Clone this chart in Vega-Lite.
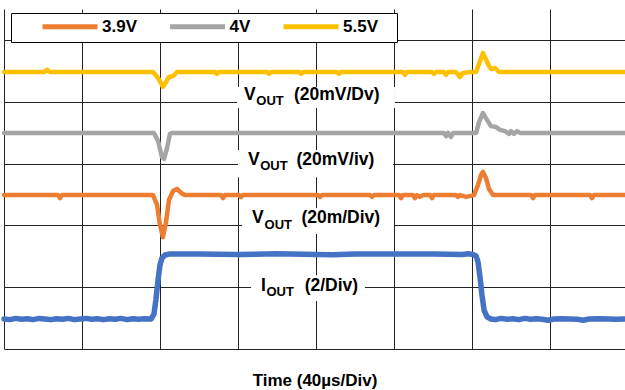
{
  "$schema": "https://vega.github.io/schema/vega-lite/v6.json",
  "autosize": {"type": "none"},
  "padding": {"left": 4, "top": 9, "right": 0, "bottom": 41},
  "width": 621,
  "height": 340,
  "config": {
    "view": {"stroke": null},
    "font": "Liberation Sans"
  },
  "datasets": {
    "traces": [
      {"series": "5.5V", "t": 0, "v": 8.96},
      {"series": "5.5V", "t": 20.5, "v": 8.96},
      {"series": "5.5V", "t": 22.1, "v": 9.03},
      {"series": "5.5V", "t": 23.6, "v": 8.96},
      {"series": "5.5V", "t": 76.4, "v": 8.96},
      {"series": "5.5V", "t": 79.0, "v": 8.77},
      {"series": "5.5V", "t": 81.5, "v": 8.48},
      {"series": "5.5V", "t": 83.1, "v": 8.64},
      {"series": "5.5V", "t": 84.6, "v": 8.8},
      {"series": "5.5V", "t": 86.7, "v": 8.83},
      {"series": "5.5V", "t": 88.7, "v": 8.96},
      {"series": "5.5V", "t": 108.2, "v": 8.96},
      {"series": "5.5V", "t": 109.2, "v": 8.9},
      {"series": "5.5V", "t": 110.3, "v": 8.96},
      {"series": "5.5V", "t": 134.9, "v": 8.96},
      {"series": "5.5V", "t": 135.9, "v": 8.9},
      {"series": "5.5V", "t": 136.9, "v": 8.96},
      {"series": "5.5V", "t": 151.3, "v": 8.96},
      {"series": "5.5V", "t": 152.3, "v": 8.9},
      {"series": "5.5V", "t": 153.3, "v": 8.96},
      {"series": "5.5V", "t": 170.8, "v": 8.96},
      {"series": "5.5V", "t": 171.8, "v": 8.9},
      {"series": "5.5V", "t": 172.8, "v": 8.96},
      {"series": "5.5V", "t": 204.6, "v": 8.96},
      {"series": "5.5V", "t": 205.6, "v": 8.87},
      {"series": "5.5V", "t": 206.7, "v": 8.96},
      {"series": "5.5V", "t": 219.5, "v": 8.96},
      {"series": "5.5V", "t": 220.5, "v": 8.9},
      {"series": "5.5V", "t": 221.5, "v": 8.96},
      {"series": "5.5V", "t": 225.6, "v": 8.96},
      {"series": "5.5V", "t": 226.7, "v": 8.87},
      {"series": "5.5V", "t": 227.7, "v": 8.96},
      {"series": "5.5V", "t": 231.8, "v": 8.96},
      {"series": "5.5V", "t": 233.8, "v": 8.8},
      {"series": "5.5V", "t": 235.4, "v": 8.93},
      {"series": "5.5V", "t": 239.0, "v": 8.96},
      {"series": "5.5V", "t": 242.1, "v": 8.96},
      {"series": "5.5V", "t": 245.6, "v": 9.58},
      {"series": "5.5V", "t": 248.2, "v": 9.22},
      {"series": "5.5V", "t": 249.7, "v": 9.06},
      {"series": "5.5V", "t": 251.8, "v": 9.09},
      {"series": "5.5V", "t": 253.8, "v": 8.96},
      {"series": "5.5V", "t": 318.5, "v": 8.96},

      {"series": "4V", "t": 0, "v": 6.99},
      {"series": "4V", "t": 76.9, "v": 6.99},
      {"series": "4V", "t": 79.0, "v": 6.73},
      {"series": "4V", "t": 81.0, "v": 6.21},
      {"series": "4V", "t": 82.1, "v": 6.15},
      {"series": "4V", "t": 83.6, "v": 6.5},
      {"series": "4V", "t": 85.1, "v": 6.96},
      {"series": "4V", "t": 86.2, "v": 6.99},
      {"series": "4V", "t": 225.6, "v": 6.99},
      {"series": "4V", "t": 226.7, "v": 6.89},
      {"series": "4V", "t": 227.7, "v": 6.99},
      {"series": "4V", "t": 229.2, "v": 6.86},
      {"series": "4V", "t": 230.3, "v": 6.99},
      {"series": "4V", "t": 242.1, "v": 6.99},
      {"series": "4V", "t": 243.6, "v": 7.34},
      {"series": "4V", "t": 245.6, "v": 7.63},
      {"series": "4V", "t": 247.7, "v": 7.41},
      {"series": "4V", "t": 249.7, "v": 7.21},
      {"series": "4V", "t": 252.3, "v": 7.18},
      {"series": "4V", "t": 254.4, "v": 7.09},
      {"series": "4V", "t": 256.9, "v": 7.05},
      {"series": "4V", "t": 259.0, "v": 6.96},
      {"series": "4V", "t": 260.0, "v": 7.05},
      {"series": "4V", "t": 261.5, "v": 6.96},
      {"series": "4V", "t": 263.1, "v": 7.05},
      {"series": "4V", "t": 264.6, "v": 6.99},
      {"series": "4V", "t": 318.5, "v": 6.99},

      {"series": "3.9V", "t": 0, "v": 4.98},
      {"series": "3.9V", "t": 27.7, "v": 4.98},
      {"series": "3.9V", "t": 28.7, "v": 4.88},
      {"series": "3.9V", "t": 29.7, "v": 4.98},
      {"series": "3.9V", "t": 76.4, "v": 4.98},
      {"series": "3.9V", "t": 78.5, "v": 4.66},
      {"series": "3.9V", "t": 80.0, "v": 4.01},
      {"series": "3.9V", "t": 81.5, "v": 3.62},
      {"series": "3.9V", "t": 83.1, "v": 4.11},
      {"series": "3.9V", "t": 84.6, "v": 4.82},
      {"series": "3.9V", "t": 86.7, "v": 5.11},
      {"series": "3.9V", "t": 88.7, "v": 5.18},
      {"series": "3.9V", "t": 90.8, "v": 5.05},
      {"series": "3.9V", "t": 92.8, "v": 4.98},
      {"series": "3.9V", "t": 111.3, "v": 4.98},
      {"series": "3.9V", "t": 112.3, "v": 4.88},
      {"series": "3.9V", "t": 113.3, "v": 4.98},
      {"series": "3.9V", "t": 120.5, "v": 4.98},
      {"series": "3.9V", "t": 121.5, "v": 4.92},
      {"series": "3.9V", "t": 122.6, "v": 4.98},
      {"series": "3.9V", "t": 161.0, "v": 4.98},
      {"series": "3.9V", "t": 162.1, "v": 4.92},
      {"series": "3.9V", "t": 163.1, "v": 4.98},
      {"series": "3.9V", "t": 187.7, "v": 4.98},
      {"series": "3.9V", "t": 188.7, "v": 4.92},
      {"series": "3.9V", "t": 189.7, "v": 4.98},
      {"series": "3.9V", "t": 202.6, "v": 4.98},
      {"series": "3.9V", "t": 203.6, "v": 4.88},
      {"series": "3.9V", "t": 204.6, "v": 4.98},
      {"series": "3.9V", "t": 209.7, "v": 4.98},
      {"series": "3.9V", "t": 210.8, "v": 4.88},
      {"series": "3.9V", "t": 211.8, "v": 4.98},
      {"series": "3.9V", "t": 213.3, "v": 4.92},
      {"series": "3.9V", "t": 214.9, "v": 4.98},
      {"series": "3.9V", "t": 218.5, "v": 4.98},
      {"series": "3.9V", "t": 219.5, "v": 4.88},
      {"series": "3.9V", "t": 220.5, "v": 4.98},
      {"series": "3.9V", "t": 231.8, "v": 4.98},
      {"series": "3.9V", "t": 232.8, "v": 4.92},
      {"series": "3.9V", "t": 233.8, "v": 4.98},
      {"series": "3.9V", "t": 236.9, "v": 4.92},
      {"series": "3.9V", "t": 241.0, "v": 4.98},
      {"series": "3.9V", "t": 243.1, "v": 5.31},
      {"series": "3.9V", "t": 244.6, "v": 5.63},
      {"series": "3.9V", "t": 245.6, "v": 5.73},
      {"series": "3.9V", "t": 247.2, "v": 5.53},
      {"series": "3.9V", "t": 248.7, "v": 5.18},
      {"series": "3.9V", "t": 250.8, "v": 4.98},
      {"series": "3.9V", "t": 270.3, "v": 4.98},
      {"series": "3.9V", "t": 271.3, "v": 4.88},
      {"series": "3.9V", "t": 272.3, "v": 4.98},
      {"series": "3.9V", "t": 300.5, "v": 4.98},
      {"series": "3.9V", "t": 301.5, "v": 4.88},
      {"series": "3.9V", "t": 302.6, "v": 4.98},
      {"series": "3.9V", "t": 318.5, "v": 4.98},

      {"series": "IOUT", "t": 0, "v": 0.97},
      {"series": "IOUT", "t": 3, "v": 0.95},
      {"series": "IOUT", "t": 6, "v": 0.99},
      {"series": "IOUT", "t": 9, "v": 0.96},
      {"series": "IOUT", "t": 12, "v": 0.98},
      {"series": "IOUT", "t": 15, "v": 0.95},
      {"series": "IOUT", "t": 18, "v": 0.99},
      {"series": "IOUT", "t": 21, "v": 0.97},
      {"series": "IOUT", "t": 24, "v": 0.95},
      {"series": "IOUT", "t": 27, "v": 0.98},
      {"series": "IOUT", "t": 30, "v": 0.96},
      {"series": "IOUT", "t": 33, "v": 0.99},
      {"series": "IOUT", "t": 36, "v": 0.95},
      {"series": "IOUT", "t": 39, "v": 0.97},
      {"series": "IOUT", "t": 42, "v": 0.99},
      {"series": "IOUT", "t": 45, "v": 0.96},
      {"series": "IOUT", "t": 48, "v": 0.98},
      {"series": "IOUT", "t": 51, "v": 0.95},
      {"series": "IOUT", "t": 54, "v": 0.98},
      {"series": "IOUT", "t": 57, "v": 0.96},
      {"series": "IOUT", "t": 60, "v": 0.99},
      {"series": "IOUT", "t": 63, "v": 0.95},
      {"series": "IOUT", "t": 66, "v": 0.98},
      {"series": "IOUT", "t": 69, "v": 0.96},
      {"series": "IOUT", "t": 72, "v": 0.98},
      {"series": "IOUT", "t": 75.4, "v": 0.97},
      {"series": "IOUT", "t": 76.9, "v": 1.13},
      {"series": "IOUT", "t": 77.9, "v": 1.59},
      {"series": "IOUT", "t": 79.0, "v": 2.23},
      {"series": "IOUT", "t": 80.0, "v": 2.72},
      {"series": "IOUT", "t": 81.0, "v": 2.94},
      {"series": "IOUT", "t": 82.6, "v": 3.04},
      {"series": "IOUT", "t": 84.6, "v": 3.07},
      {"series": "IOUT", "t": 100, "v": 3.07},
      {"series": "IOUT", "t": 120, "v": 3.06},
      {"series": "IOUT", "t": 140, "v": 3.08},
      {"series": "IOUT", "t": 160, "v": 3.06},
      {"series": "IOUT", "t": 168.7, "v": 3.05},
      {"series": "IOUT", "t": 180, "v": 3.07},
      {"series": "IOUT", "t": 200, "v": 3.07},
      {"series": "IOUT", "t": 220, "v": 3.07},
      {"series": "IOUT", "t": 235, "v": 3.06},
      {"series": "IOUT", "t": 238, "v": 3.08},
      {"series": "IOUT", "t": 240.5, "v": 3.06},
      {"series": "IOUT", "t": 242.1, "v": 3.01},
      {"series": "IOUT", "t": 243.1, "v": 2.81},
      {"series": "IOUT", "t": 244.1, "v": 2.33},
      {"series": "IOUT", "t": 245.1, "v": 1.75},
      {"series": "IOUT", "t": 246.2, "v": 1.26},
      {"series": "IOUT", "t": 247.7, "v": 1.04},
      {"series": "IOUT", "t": 249.7, "v": 0.97},
      {"series": "IOUT", "t": 252, "v": 0.95},
      {"series": "IOUT", "t": 255, "v": 0.99},
      {"series": "IOUT", "t": 258, "v": 0.96},
      {"series": "IOUT", "t": 261, "v": 0.98},
      {"series": "IOUT", "t": 264, "v": 0.95},
      {"series": "IOUT", "t": 267, "v": 0.99},
      {"series": "IOUT", "t": 270, "v": 0.96},
      {"series": "IOUT", "t": 273, "v": 0.98},
      {"series": "IOUT", "t": 276, "v": 0.96},
      {"series": "IOUT", "t": 279, "v": 0.93},
      {"series": "IOUT", "t": 282, "v": 0.97},
      {"series": "IOUT", "t": 286, "v": 0.98},
      {"series": "IOUT", "t": 290, "v": 0.97},
      {"series": "IOUT", "t": 294, "v": 0.96},
      {"series": "IOUT", "t": 297, "v": 0.93},
      {"series": "IOUT", "t": 300, "v": 0.97},
      {"series": "IOUT", "t": 305, "v": 0.98},
      {"series": "IOUT", "t": 310, "v": 0.97},
      {"series": "IOUT", "t": 314, "v": 0.96},
      {"series": "IOUT", "t": 318.5, "v": 0.97}
    ],
    "boxes": [
      {"t1": 119.5, "t2": 200.5, "v1": 8.48, "v2": 7.8},
      {"t1": 120.0, "t2": 199.5, "v1": 6.44, "v2": 5.56},
      {"t1": 122.1, "t2": 200.0, "v1": 4.56, "v2": 3.72},
      {"t1": 126.7, "t2": 185.1, "v1": 2.39, "v2": 1.55}
    ],
    "labels": [
      {"part": "main", "text": "V", "t": 123.1, "v": 8.06},
      {"part": "sub", "text": "OUT", "t": 129.4, "v": 7.89},
      {"part": "main", "text": "(20mV/Dv)", "t": 148.7, "v": 8.06},
      {"part": "main", "text": "V", "t": 125.1, "v": 5.95},
      {"part": "sub", "text": "OUT", "t": 131.4, "v": 5.79},
      {"part": "main", "text": "(20mV/iv)", "t": 150.0, "v": 5.95},
      {"part": "main", "text": "V", "t": 127.2, "v": 4.08},
      {"part": "sub", "text": "OUT", "t": 133.6, "v": 3.88},
      {"part": "main", "text": "(20m/Div)", "t": 152.5, "v": 4.08},
      {"part": "main", "text": "I", "t": 131.8, "v": 1.88},
      {"part": "sub", "text": "OUT", "t": 134.6, "v": 1.71},
      {"part": "main", "text": "(2/Div)", "t": 154.2, "v": 1.88}
    ]
  },
  "layer": [
    {
      "data": {"name": "traces"},
      "mark": {"type": "line", "strokeJoin": "round", "strokeCap": "round"},
      "encoding": {
        "x": {
          "field": "t", "type": "quantitative",
          "scale": {"domain": [0, 318.46], "nice": false, "zero": false},
          "axis": {
            "values": [0, 40, 80, 120, 160, 200, 240, 280],
            "labels": false, "ticks": false, "domain": false,
            "grid": true, "gridColor": "#222222", "gridWidth": 1, "gridOpacity": 1,
            "title": "Time (40µs/Div)", "titleFont": "Liberation Sans",
            "titleFontSize": 17, "titleFontWeight": "bold", "titleColor": "#000000",
            "titlePadding": 23
          }
        },
        "y": {
          "field": "v", "type": "quantitative",
          "scale": {"domain": [0, 11], "nice": false, "zero": false},
          "axis": {
            "values": [0, 1, 2, 3, 4, 5, 6, 7, 8, 9, 10, 11],
            "labels": false, "ticks": false, "domain": false,
            "grid": true, "gridColor": "#222222", "gridWidth": 1, "gridOpacity": 1,
            "title": null
          }
        },
        "detail": {"field": "series"},
        "strokeWidth": {
          "condition": {"test": "datum.series === 'IOUT'", "value": 5.5},
          "value": 4.5
        },
        "color": {
          "field": "series", "type": "nominal",
          "scale": {
            "domain": ["3.9V", "4V", "5.5V", "IOUT"],
            "range": ["#ED7D31", "#A5A5A5", "#FFC000", "#4472C4"]
          },
          "legend": {
            "values": ["3.9V", "4V", "5.5V"],
            "title": "\u00a0",
            "titleOrient": "right",
            "titlePadding": 14,
            "titleFontSize": 17,
            "orient": "none",
            "legendX": 7,
            "legendY": 4,
            "direction": "horizontal",
            "symbolType": "M-5,0H5",
            "symbolSize": 121,
            "symbolStrokeWidth": 5,
            "labelFont": "Liberation Sans",
            "labelFontSize": 17,
            "labelFontWeight": "bold",
            "labelColor": "#000000",
            "labelOffset": 23.5,
            "symbolOffset": 45.5,
            "columnPadding": 6.5,
            "strokeColor": "#000000",
            "fillColor": "#ffffff",
            "padding": 5
          }
        }
      }
    },
    {
      "data": {"name": "boxes"},
      "mark": {"type": "rect", "fill": "#ffffff"},
      "encoding": {
        "x": {"field": "t1", "type": "quantitative"},
        "x2": {"field": "t2"},
        "y": {"field": "v1", "type": "quantitative"},
        "y2": {"field": "v2"}
      }
    },
    {
      "data": {"name": "labels"},
      "transform": [{"filter": "datum.part === 'main'"}],
      "mark": {"type": "text", "align": "left", "baseline": "alphabetic", "font": "Liberation Sans", "fontSize": 17.5, "fontWeight": "bold", "color": "#000000"},
      "encoding": {
        "x": {"field": "t", "type": "quantitative"},
        "y": {"field": "v", "type": "quantitative"},
        "text": {"field": "text"}
      }
    },
    {
      "data": {"name": "labels"},
      "transform": [{"filter": "datum.part === 'sub'"}],
      "mark": {"type": "text", "align": "left", "baseline": "alphabetic", "font": "Liberation Sans", "fontSize": 13, "fontWeight": "bold", "color": "#000000"},
      "encoding": {
        "x": {"field": "t", "type": "quantitative"},
        "y": {"field": "v", "type": "quantitative"},
        "text": {"field": "text"}
      }
    }
  ]
}
